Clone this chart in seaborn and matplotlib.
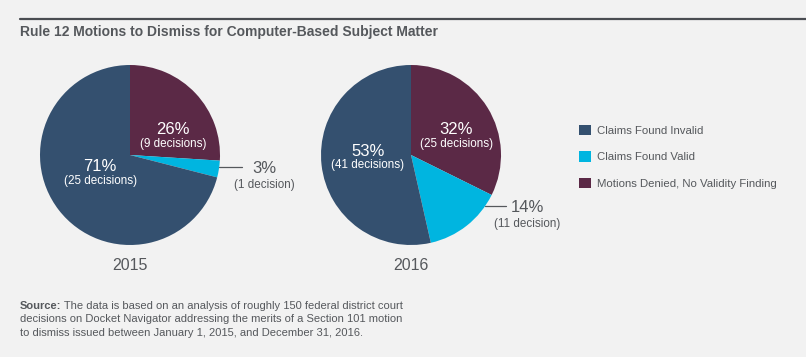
import matplotlib
matplotlib.use("Agg")
import matplotlib.pyplot as plt
import seaborn as sns
import numpy as np
from matplotlib.patches import Patch

# ---------------- data ----------------
years = ["2015", "2016"]
categories = ["Motions Denied, No Validity Finding", "Claims Found Valid", "Claims Found Invalid"]
pct_2015 = [26, 3, 71]
pct_2016 = [32, 14, 53]
dec_2015 = ["(9 decisions)", "(1 decision)", "(25 decisions)"]
dec_2016 = ["(25 decisions)", "(11 decision)", "(41 decisions)"]
legend_order = ["Claims Found Invalid", "Claims Found Valid", "Motions Denied, No Validity Finding"]

title = "Rule 12 Motions to Dismiss for Computer-Based Subject Matter"
source_lines = [
    " The data is based on an analysis of roughly 150 federal district court",
    "decisions on Docket Navigator addressing the merits of a Section 101 motion",
    "to dismiss issued between January 1, 2015, and December 31, 2016.",
]

# ---------------- style ----------------
sns.set_theme(style="white")
plt.rcParams["font.family"] = ["Liberation Sans", "DejaVu Sans"]
BG = "#f2f2f2"
GRAY = "#55585c"
colors = {
    "Claims Found Invalid": "#34506f",
    "Claims Found Valid": "#00b5e0",
    "Motions Denied, No Validity Finding": "#5b2946",
}
palette = [colors[c] for c in categories]

W, H = 806, 357
fig = plt.figure(figsize=(W / 100, H / 100), dpi=100, facecolor=BG)

def fx(x):
    return x / W

def fy(y):
    return 1 - y / H

# title and rule line
fig.add_artist(plt.Line2D([fx(20), fx(806)], [fy(19), fy(19)], color="#4a4d52", lw=1.6))
fig.text(fx(20), fy(32), title, fontsize=10, fontweight="bold", color=GRAY, va="center", ha="left")

R = 90  # pie radius in px

inside_pos = {
    "2015": {0: (0.48, 0.28), 2: (-0.33, -0.13)},
    "2016": {0: (0.50, 0.28), 2: (-0.48, 0.04)},
}
outside_cfg = {
    "2015": dict(idx=1, line_y=-0.133, line_end=1.24, tx=1.49, ty=-0.155),
    "2016": dict(idx=1, line_y=-0.567, line_end=1.05, tx=1.29, ty=-0.585),
}
centers = {"2015": (130, 155), "2016": (411, 155)}
pcts = {"2015": pct_2015, "2016": pct_2016}
decs = {"2015": dec_2015, "2016": dec_2016}

for yr in years:
    cx, cy = centers[yr]
    ax = fig.add_axes([fx(cx - R), fy(cy + R), 2 * R / W, 2 * R / H])
    ax.set_facecolor(BG)
    ax.pie(pcts[yr], colors=palette, startangle=90, counterclock=False,
           radius=1, wedgeprops=dict(linewidth=0))
    ax.set_xlim(-1, 1)
    ax.set_ylim(-1, 1)
    ax.set_aspect("equal")
    ax.axis("off")

    for i, (x, y) in inside_pos[yr].items():
        ax.text(x, y, f"{pcts[yr][i]}%", color="white", fontsize=12, ha="center", va="center")
        ax.text(x, y - 0.155, decs[yr][i], color="white", fontsize=8.4, ha="center", va="center")

    oc = outside_cfg[yr]
    i = oc["idx"]
    x0 = np.sqrt(1 - oc["line_y"] ** 2)
    ax.plot([x0, oc["line_end"]], [oc["line_y"], oc["line_y"]], color=GRAY, lw=0.9, clip_on=False)
    ax.text(oc["tx"], oc["ty"], f"{pcts[yr][i]}%", color=GRAY, fontsize=12, ha="center", va="center", clip_on=False)
    ax.text(oc["tx"], oc["ty"] - 0.18, decs[yr][i], color=GRAY, fontsize=8.4, ha="center", va="center", clip_on=False)

    ax.text(0, -1.23, yr, color=GRAY, fontsize=11.5, ha="center", va="center", clip_on=False)

# legend
handles = [Patch(facecolor=colors[c], edgecolor="none") for c in legend_order]
leg = fig.legend(handles, legend_order, loc="upper left", bbox_to_anchor=(fx(574), fy(120)),
                 frameon=False, fontsize=8.2, handlelength=1.05, handleheight=1.05,
                 handletextpad=0.55, labelspacing=1.35, borderaxespad=0, borderpad=0.4)
for t in leg.get_texts():
    t.set_color(GRAY)

# source note
fig.canvas.draw()
renderer = fig.canvas.get_renderer()
FS = 8.0
src_bold = fig.text(fx(20), fy(306), "Source:", fontsize=FS, fontweight="bold", color=GRAY, va="center", ha="left")
bb = src_bold.get_window_extent(renderer=renderer)
x_after = bb.x1 / fig.dpi / fig.get_figwidth()
fig.text(x_after, fy(306), source_lines[0], fontsize=FS, color=GRAY, va="center", ha="left")
fig.text(fx(20), fy(319.5), source_lines[1], fontsize=FS, color=GRAY, va="center", ha="left")
fig.text(fx(20), fy(333), source_lines[2], fontsize=FS, color=GRAY, va="center", ha="left")

fig.savefig("out.png", dpi=100, facecolor=BG)
